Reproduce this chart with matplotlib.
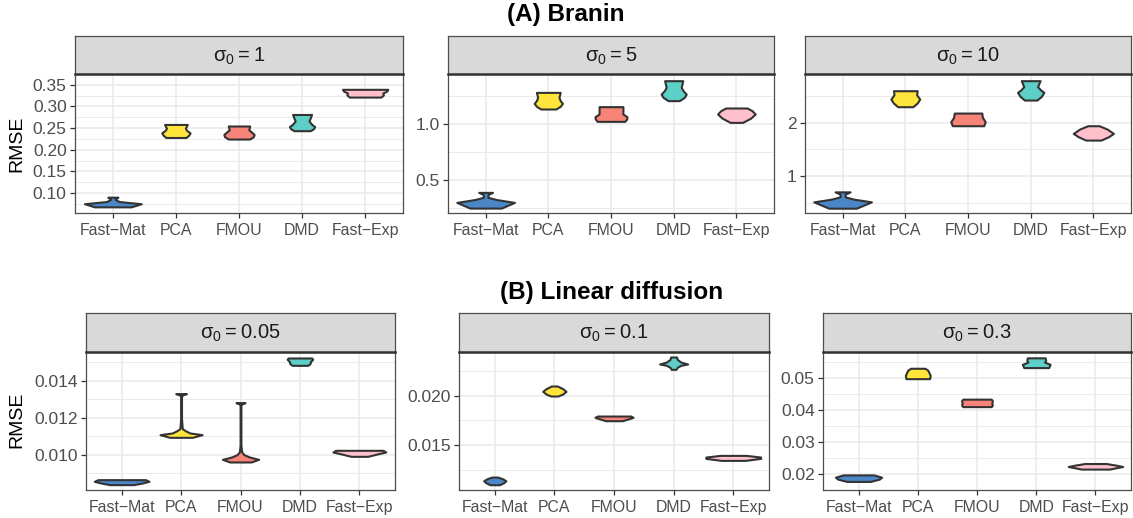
import matplotlib
matplotlib.use("Agg")
import matplotlib.pyplot as plt

plt.rcParams['font.family'] = ['Liberation Sans', 'DejaVu Sans']

methods = ["Fast\u2212Mat", "PCA", "FMOU", "DMD", "Fast\u2212Exp"]
colors = ["#4A86C8", "#FFE53B", "#F88379", "#5ECFC6", "#FFC0CB"]

# violin outlines: RMSE levels (bottom -> top)
# and the relative half-width of the violin at each level
branin_1_rmse = [
    [0.0682, 0.0754, 0.0805, 0.0855, 0.0895, 0.0905],
    [0.2284, 0.2334, 0.2391, 0.2449, 0.2499, 0.2585],
    [0.2248, 0.2305, 0.2355, 0.2406, 0.2463, 0.2549],
    [0.2441, 0.2485, 0.2535, 0.2592, 0.2664, 0.2736, 0.2815],
    [0.3217, 0.3267, 0.3310, 0.3353, 0.3396],
]
branin_1_dens = [
    [0.29, 0.45, 0.10, 0.035, 0.07, 0.08],
    [0.16, 0.20, 0.225, 0.17, 0.15, 0.18],
    [0.17, 0.23, 0.24, 0.20, 0.155, 0.17],
    [0.13, 0.18, 0.20, 0.15, 0.11, 0.13, 0.15],
    [0.25, 0.29, 0.28, 0.34, 0.36],
]

branin_5_rmse = [
    [0.248, 0.299, 0.325, 0.345, 0.370, 0.389],
    [1.137, 1.161, 1.188, 1.212, 1.242, 1.286],
    [1.026, 1.047, 1.068, 1.092, 1.158],
    [1.212, 1.242, 1.271, 1.301, 1.331, 1.391],
    [1.017, 1.056, 1.092, 1.122, 1.146],
]
branin_5_dens = [
    [0.25, 0.46, 0.17, 0.035, 0.04, 0.11],
    [0.12, 0.19, 0.225, 0.19, 0.17, 0.19],
    [0.22, 0.25, 0.255, 0.19, 0.19],
    [0.09, 0.17, 0.20, 0.15, 0.12, 0.145],
    [0.10, 0.23, 0.30, 0.25, 0.17],
]

branin_10_rmse = [
    [0.396, 0.515, 0.565, 0.609, 0.659, 0.702],
    [2.297, 2.366, 2.441, 2.522, 2.597],
    [1.941, 2.016, 2.097, 2.178],
    [2.422, 2.491, 2.566, 2.610, 2.672, 2.785],
    [1.672, 1.734, 1.797, 1.878, 1.941],
]
branin_10_dens = [
    [0.22, 0.46, 0.18, 0.04, 0.04, 0.12],
    [0.12, 0.19, 0.23, 0.18, 0.19],
    [0.25, 0.275, 0.23, 0.22],
    [0.10, 0.17, 0.21, 0.16, 0.11, 0.15],
    [0.12, 0.24, 0.32, 0.22, 0.09],
]

diff_005_rmse = [
    [0.008379, 0.008469, 0.008559, 0.008649],
    [0.010937, 0.011081, 0.011172, 0.011280, 0.011406, 0.011946, 0.013172, 0.013262, 0.013298],
    [0.009604, 0.009748, 0.009874, 0.010000, 0.010145, 0.010505, 0.012703, 0.012775, 0.012811],
    [0.014829, 0.014919, 0.015046, 0.015154, 0.015226],
    [0.009910, 0.010037, 0.010145, 0.010235],
]
diff_005_dens = [
    [0.20, 0.35, 0.46, 0.40],
    [0.19, 0.355, 0.15, 0.08, 0.02, 0.007, 0.007, 0.04, 0.09],
    [0.18, 0.305, 0.15, 0.06, 0.02, 0.007, 0.007, 0.04, 0.075],
    [0.13, 0.17, 0.18, 0.215, 0.20],
    [0.14, 0.30, 0.445, 0.40],
]

diff_01_rmse = [
    [0.010974, 0.011177, 0.011379, 0.011582, 0.011751],
    [0.019967, 0.020170, 0.020440, 0.020711, 0.020981],
    [0.017465, 0.017668, 0.017803, 0.017938],
    [0.022672, 0.022875, 0.023078, 0.023213, 0.023416, 0.023686, 0.023923],
    [0.013441, 0.013645, 0.013780, 0.013949],
]
diff_01_dens = [
    [0.08, 0.15, 0.186, 0.13, 0.05],
    [0.06, 0.14, 0.195, 0.14, 0.05],
    [0.14, 0.25, 0.32, 0.28],
    [0.04, 0.06, 0.12, 0.235, 0.12, 0.06, 0.05],
    [0.20, 0.46, 0.46, 0.22],
]

diff_03_rmse = [
    [0.01767, 0.01838, 0.01899, 0.01970],
    [0.04969, 0.05070, 0.05152, 0.05233, 0.05293],
    [0.04098, 0.04148, 0.04209, 0.04280, 0.04331],
    [0.05314, 0.05415, 0.05486, 0.05547, 0.05618],
    [0.02152, 0.02193, 0.02233, 0.02274, 0.02325],
]
diff_03_dens = [
    [0.20, 0.35, 0.39, 0.26],
    [0.20, 0.21, 0.19, 0.17, 0.12],
    [0.24, 0.26, 0.25, 0.26, 0.24],
    [0.21, 0.235, 0.14, 0.16, 0.15],
    [0.24, 0.35, 0.46, 0.35, 0.18],
]

# y axis ticks per panel
branin_1_ticks = [0.10, 0.15, 0.20, 0.25, 0.30, 0.35]
branin_1_labels = ["0.10", "0.15", "0.20", "0.25", "0.30", "0.35"]
branin_5_ticks = [0.5, 1.0]
branin_5_labels = ["0.5", "1.0"]
branin_10_ticks = [1, 2]
branin_10_labels = ["1", "2"]
diff_005_ticks = [0.010, 0.012, 0.014]
diff_005_labels = ["0.010", "0.012", "0.014"]
diff_01_ticks = [0.015, 0.020]
diff_01_labels = ["0.015", "0.020"]
diff_03_ticks = [0.02, 0.03, 0.04, 0.05]
diff_03_labels = ["0.02", "0.03", "0.04", "0.05"]

W, H = 1133, 518


def px_rect(left, top, right, bottom):
    return [left / W, 1 - bottom / H, (right - left) / W, (bottom - top) / H]


def draw_panel(fig, box, strip_top, label, rmse, dens, ylim, ticks, ticklabels):
    left, top, right, bottom = box
    ax = fig.add_axes(px_rect(left, top, right, bottom))
    sax = fig.add_axes(px_rect(left, strip_top, right, top))

    # strip on top of the panel
    sax.set_facecolor("#D9D9D9")
    sax.set_xticks([])
    sax.set_yticks([])
    for s in sax.spines.values():
        s.set_color("#4D4D4D")
        s.set_linewidth(0.9)
    sax.spines["bottom"].set_linewidth(1.8)
    sax.spines["bottom"].set_color("#333333")
    sax.text(0.5, 0.47, label, transform=sax.transAxes, ha="center", va="center",
             fontsize=14.5, color="#1A1A1A")

    ax.set_xlim(0.4, 5.6)
    ax.set_ylim(*ylim)
    ax.set_xticks(range(1, 6))
    ax.set_xticklabels(methods, fontsize=11.4)
    ax.set_yticks(ticks)
    ax.set_yticklabels(ticklabels, fontsize=12.5)
    minor = [t - (ticks[1] - ticks[0]) / 2 for t in ticks] + [ticks[-1] + (ticks[1] - ticks[0]) / 2]
    ax.set_yticks(minor, minor=True)
    ax.grid(which="major", color="#EBEBEB", lw=1.2)
    ax.grid(which="minor", axis="y", color="#EBEBEB", lw=0.7)
    ax.set_axisbelow(True)
    ax.tick_params(axis="both", length=3.5, width=0.9, color="#333333",
                   labelcolor="#4D4D4D", pad=2.5)
    ax.tick_params(axis="x", pad=3.5)
    ax.tick_params(which="minor", length=0)
    for s in ax.spines.values():
        s.set_color("#4D4D4D")
        s.set_linewidth(0.9)

    for k in range(5):
        x = k + 1
        ax.fill_betweenx(rmse[k], [x - w for w in dens[k]], [x + w for w in dens[k]],
                         facecolor=colors[k], edgecolor="#333333", lw=1.5,
                         joinstyle="round", zorder=3)
    return ax


fig = plt.figure(figsize=(W / 100, H / 100), dpi=100)

# (A) Branin
draw_panel(fig, (75, 74, 403, 213), 36, "$\\mathregular{σ_0 = 1}$",
           branin_1_rmse, branin_1_dens, (0.054, 0.354), branin_1_ticks, branin_1_labels)
draw_panel(fig, (448, 74, 774, 213), 36, "$\\mathregular{σ_0 = 5}$",
           branin_5_rmse, branin_5_dens, (0.204, 1.451), branin_5_ticks, branin_5_labels)
draw_panel(fig, (805, 74, 1131, 213), 36, "$\\mathregular{σ_0 = 10}$",
           branin_10_rmse, branin_10_dens, (0.306, 2.91), branin_10_ticks, branin_10_labels)

# (B) Linear diffusion
draw_panel(fig, (86, 352, 395, 490), 313, "$\\mathregular{σ_0 = 0.05}$",
           diff_005_rmse, diff_005_dens, (0.00809, 0.01555), diff_005_ticks, diff_005_labels)
draw_panel(fig, (459, 352, 769, 490), 313, "$\\mathregular{σ_0 = 0.1}$",
           diff_01_rmse, diff_01_dens, (0.01044, 0.02443), diff_01_ticks, diff_01_labels)
draw_panel(fig, (823, 352, 1131, 490), 313, "$\\mathregular{σ_0 = 0.3}$",
           diff_03_rmse, diff_03_dens, (0.016, 0.058), diff_03_ticks, diff_03_labels)

fig.text(566 / W, 1 - 14 / H, "(A) Branin", ha="center", va="center",
         fontsize=17.5, fontweight="bold")
fig.text(612 / W, 1 - 292 / H, "(B) Linear diffusion", ha="center", va="center",
         fontsize=17.5, fontweight="bold")
fig.text(17 / W, 1 - 144 / H, "RMSE", rotation=90, ha="center", va="center", fontsize=14)
fig.text(17 / W, 1 - 420 / H, "RMSE", rotation=90, ha="center", va="center", fontsize=14)

fig.savefig("out.png", dpi=100)
plt.close(fig)
